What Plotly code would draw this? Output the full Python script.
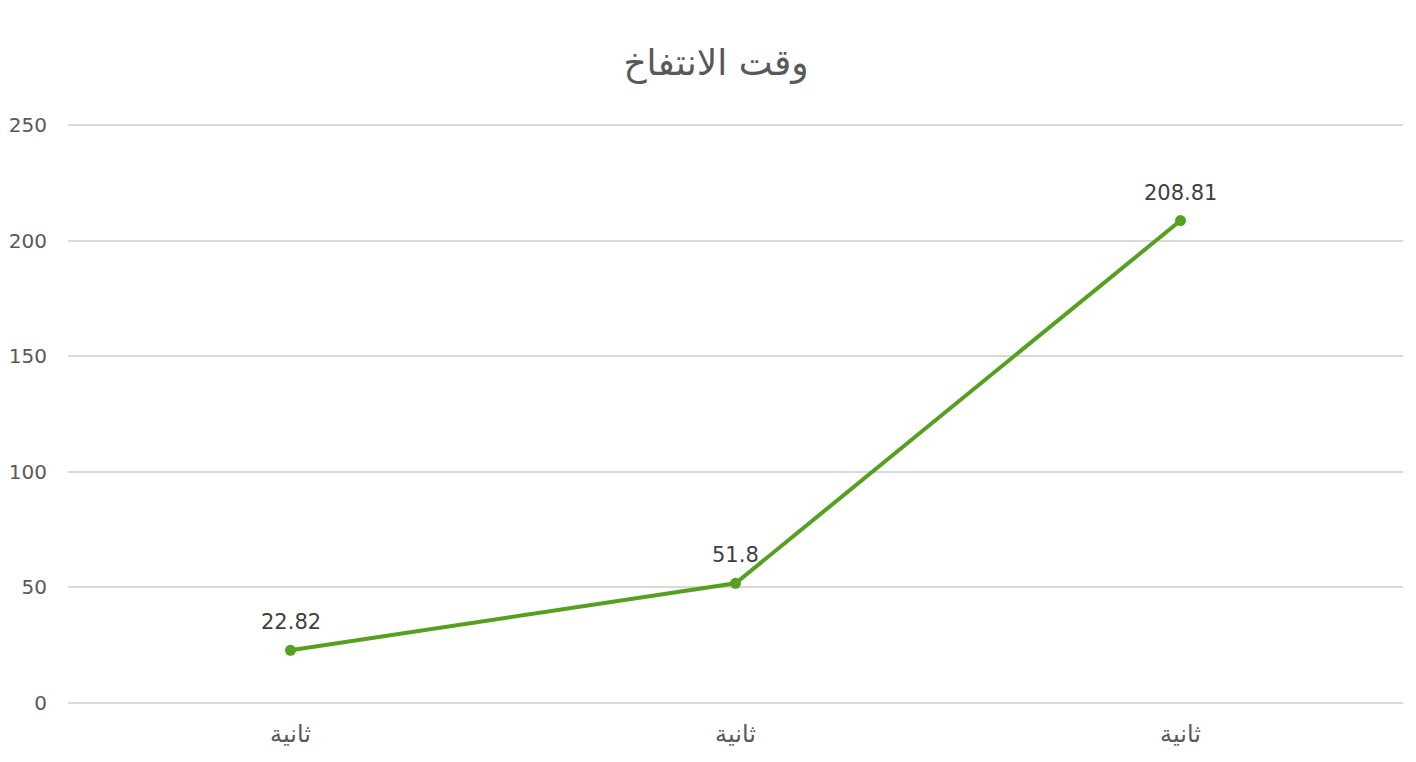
import plotly.graph_objects as go

# chart data
categories = ["ثانية", "ثانية", "ثانية"]
values = [22.82, 51.8, 208.81]
label_text = ["22.82", "51.8", "208.81"]
y_ticks = [0, 50, 100, 150, 200, 250]

positions = list(range(len(categories)))

fig = go.Figure()
fig.add_trace(go.Scatter(
    x=positions, y=values,
    mode="lines+markers",
    line=dict(color="#55a11f", width=4),
    marker=dict(color="#55a11f", size=11),
    showlegend=False,
    hoverinfo="skip",
))

# data labels sit a bit above each point
for px_, val, txt in zip(positions, values, label_text):
    fig.add_annotation(x=px_, y=val, text=txt, showarrow=False, yshift=28,
                       font=dict(family="DejaVu Sans", size=21, color="#404040"))

# the page body adds 8px on the top/left, so margins are offset for it
fig.update_layout(
    width=1416, height=762,
    paper_bgcolor="white", plot_bgcolor="white",
    margin=dict(l=60, r=21, t=116, b=67),
    title=dict(text="وقت الانتفاخ", x=0.5, xanchor="center", y=0.929, yanchor="middle",
               font=dict(family="DejaVu Sans", size=36, color="#595959")),
    font=dict(family="DejaVu Sans", color="#595959"),
)
fig.update_xaxes(
    range=[-0.5, 2.5], tickvals=positions, ticktext=categories,
    showgrid=False, zeroline=False, showline=False, ticks="",
    automargin=False, ticklabelstandoff=14,
    tickfont=dict(size=24, color="#595959"),
)
fig.update_yaxes(
    range=[0, 250.6], tickvals=y_ticks,
    showgrid=True, gridcolor="#d9d9d9", gridwidth=1.5,
    zeroline=True, zerolinecolor="#d9d9d9", zerolinewidth=1.5,
    ticks="", ticklabelstandoff=20, automargin=False,
    tickfont=dict(size=20, color="#595959"),
)

fig.write_html("out.html")
